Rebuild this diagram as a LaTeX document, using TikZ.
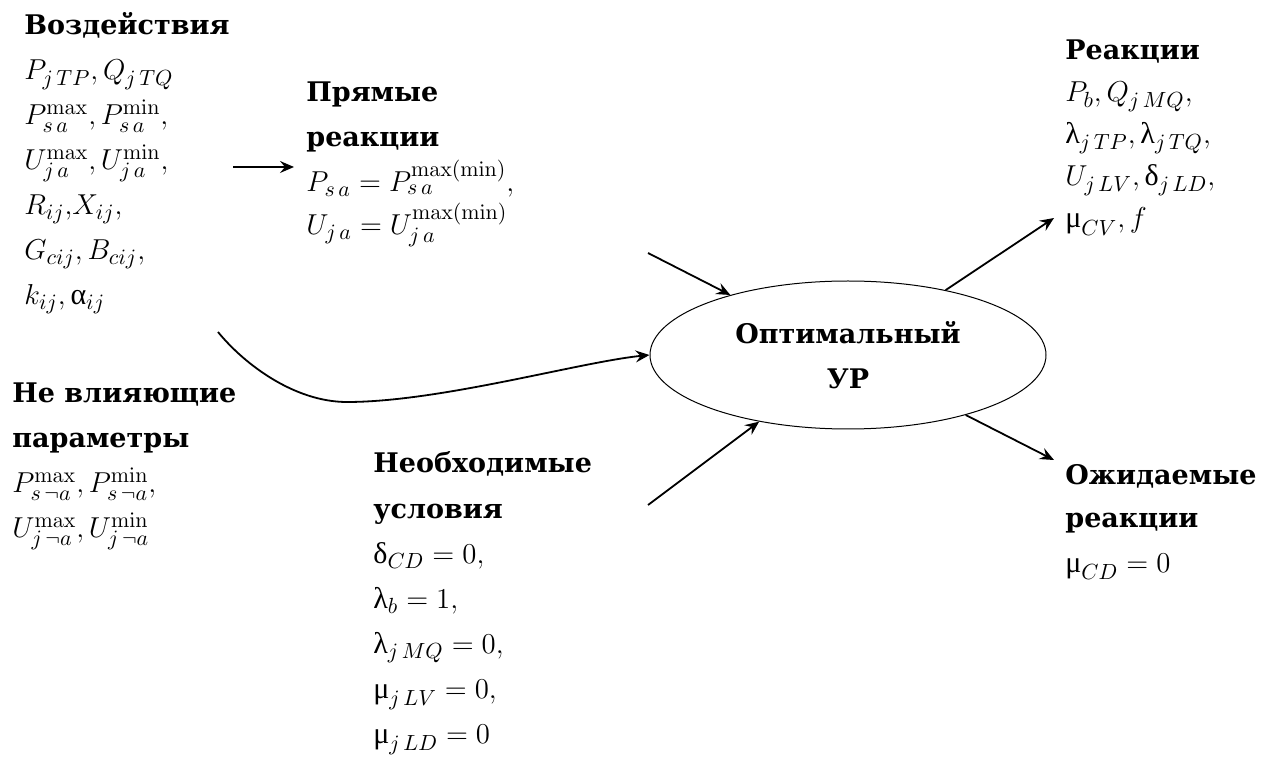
\documentclass[tikz,border=0pt]{standalone}
\usepackage[no-math]{fontspec}
\newfontfamily\hdfont{DejaVu Serif}
\newfontfamily\grk{Liberation Serif}
\usetikzlibrary{shapes.geometric,arrows.meta}
\newcommand\gla{\mbox{\grk λ}}
\newcommand\gmu{\mbox{\grk μ}}
\newcommand\gde{\mbox{\grk δ}}
\newcommand\gal{\mbox{\grk α}}
\tikzset{
  hd/.style={anchor=base west, inner sep=0pt, font=\hdfont\bfseries\fontsize{13.5}{16}\selectfont},
  mt/.style={anchor=base west, inner sep=0pt, font=\fontsize{15}{18}\selectfont},
  arr/.style={-{Stealth[length=7pt,width=6pt,inset=2.5pt]}, line width=0.9pt},
  ellbox/.style={ellipse, draw, line width=0.5pt, minimum width=198pt, minimum height=74pt,
     inner sep=0pt, align=center, font=\hdfont\bfseries\fontsize{13.5}{22.5}\selectfont}
}
\begin{document}
\begin{tikzpicture}[x=0.5pt,y=-0.5pt]
\useasboundingbox (0,0) rectangle (1280,764);
% Воздействия
\node[hd] (v0) at (24,35) {Воздействия};
\node[mt] (v1) at (24,80) {$P_{j\,TP}, Q_{j\,TQ}$};
\node[mt] (v2) at (24,125) {$P^{\max}_{s\,a}, P^{\min}_{s\,a},$};
\node[mt] (v3) at (24,170) {$U^{\max}_{j\,a}, U^{\min}_{j\,a},$};
\node[mt] (v4) at (24,215) {$R_{ij}{,}X_{ij},$};
\node[mt] (v5) at (24,260) {$G_{cij}, B_{cij},$};
\node[mt] (v6) at (24,305) {$k_{ij}, \gal_{ij}$};
% Прямые реакции
\node[hd] (p0) at (306,102) {Прямые};
\node[hd] (p1) at (306,147) {реакции};
\node[mt] (p2) at (306,192) {$P_{s\,a} = P^{\max(\min)}_{s\,a},$};
\node[mt] (p3) at (306,235) {$U_{j\,a} = U^{\max(\min)}_{j\,a}$};
% Не влияющие параметры
\node[hd] (n0) at (12,403) {Не влияющие};
\node[hd] (n1) at (12,448) {параметры};
\node[mt] (n2) at (12,493) {$P^{\max}_{s\,\neg a}, P^{\min}_{s\,\neg a},$};
\node[mt] (n3) at (12,538) {$U^{\max}_{j\,\neg a}, U^{\min}_{j\,\neg a}$};
% Необходимые условия
\node[hd] (u0) at (373,473) {Необходимые};
\node[hd] (u1) at (373,518) {условия};
\node[mt] (u2) at (373,563) {$\gde_{CD} = 0,$};
\node[mt] (u3) at (373,608) {$\gla_{b} = 1,$};
\node[mt] (u4) at (373,653) {$\gla_{j\,MQ} = 0,$};
\node[mt] (u5) at (373,698) {$\gmu_{j\,LV} = 0,$};
\node[mt] (u6) at (373,743) {$\gmu_{j\,LD} = 0$};
% Реакции
\node[hd] (r0) at (1065,60) {Реакции};
\node[mt] (r1) at (1065,102) {$P_{b}, Q_{j\,MQ},$};
\node[mt] (r2) at (1065,144) {$\gla_{j\,TP}, \gla_{j\,TQ},$};
\node[mt] (r3) at (1065,186) {$U_{j\,LV}, \gde_{j\,LD},$};
\node[mt] (r4) at (1065,228) {$\gmu_{CV}, f$};
% Ожидаемые реакции
\node[hd] (o0) at (1065,485) {Ожидаемые};
\node[hd] (o1) at (1065,528) {реакции};
\node[mt] (o2) at (1065,572) {$\gmu_{CD} = 0$};
% Ellipse
\node[ellbox] (ell) at (848,355) {Оптимальный\\УР};
% connectors
\coordinate (c1a) at (233,167);
\coordinate (c1b) at (294,167);
\coordinate (cs) at (218,332);
\coordinate (cb) at (347,402);
\coordinate (c3) at (648,253);
\coordinate (c4) at (648,505);
\coordinate (c5) at (1054,218);
\coordinate (c6) at (1054,460);
\draw[arr] (c1a) -- (c1b);
\draw[arr] (cs) .. controls (245,365) and (295,402) .. (cb) .. controls (440,402) and (580,362) .. (ell.west);
\draw[arr] (c3) -- (ell);
\draw[arr] (c4) -- (ell);
\draw[arr] (ell) -- (c5);
\draw[arr] (ell) -- (c6);
\end{tikzpicture}
\end{document}
